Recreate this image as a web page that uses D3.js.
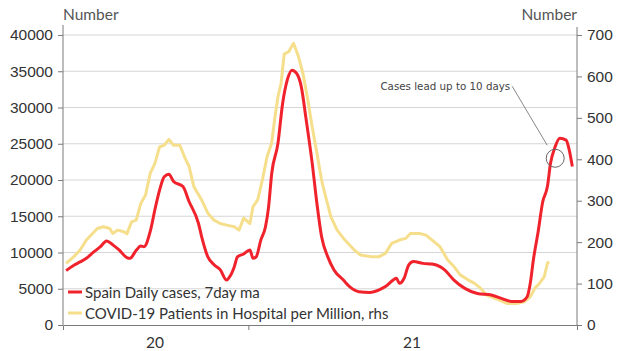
<!DOCTYPE html>
<html>
<head>
<meta charset="utf-8">
<script src="https://cdn.jsdelivr.net/npm/d3@7"></script>
<style>
    body { margin: 0; background: #fff; }
    svg { font-family: Lato, "Open Sans", sans-serif; }
    .tick text { font-size: 15.5px; fill: #333; }
    .note { font-family: "DejaVu Sans", sans-serif; font-size: 10.3px; fill: #444; }
</style>
</head>
<body>
<div id="chart"></div>
<script>
// Spain: daily cases (lhs) vs patients in hospital per million (rhs)

const caseDates = [
    '2020-09-06', '2020-09-11', '2020-09-15', '2020-09-19', '2020-09-23', '2020-09-28',
    '2020-10-02', '2020-10-06', '2020-10-10', '2020-10-15', '2020-10-17', '2020-10-21',
    '2020-10-24', '2020-10-26', '2020-10-30', '2020-11-02', '2020-11-05', '2020-11-08',
    '2020-11-11', '2020-11-14', '2020-11-20', '2020-11-24', '2020-11-30', '2020-12-02',
    '2020-12-06', '2020-12-10', '2020-12-14', '2020-12-18', '2020-12-20', '2020-12-23',
    '2020-12-25', '2020-12-29', '2021-01-02', '2021-01-04', '2021-01-06', '2021-01-09',
    '2021-01-12', '2021-01-14', '2021-01-16', '2021-01-20', '2021-01-23', '2021-01-26',
    '2021-01-29', '2021-02-01', '2021-02-04', '2021-02-07', '2021-02-11', '2021-02-14',
    '2021-02-17', '2021-02-21', '2021-02-25', '2021-03-03', '2021-03-07', '2021-03-13',
    '2021-03-20', '2021-03-26', '2021-03-30', '2021-04-04', '2021-04-06', '2021-04-08',
    '2021-04-11', '2021-04-14', '2021-04-17', '2021-04-23', '2021-04-29', '2021-05-04',
    '2021-05-07', '2021-05-13', '2021-05-20', '2021-05-28', '2021-06-06', '2021-06-12',
    '2021-06-19', '2021-06-25', '2021-06-29', '2021-07-01', '2021-07-03', '2021-07-06',
    '2021-07-09', '2021-07-12', '2021-07-14', '2021-07-17', '2021-07-20', '2021-07-24',
    '2021-07-26', '2021-07-28'
];
const caseValues = [
    7500, 8250, 8700, 9200, 9950, 10800,
    11600, 11050, 10350, 9300, 9200, 10300,
    10900, 10800, 12900, 15900, 18600, 20450,
    20800, 19800, 19100, 17000, 14000, 12200,
    9400, 8300, 7600, 6200, 6650, 8050,
    9400, 9800, 10350, 9200, 9400, 11700,
    13550, 16300, 20900, 25050, 30550, 33800,
    35150, 34700, 32850, 28500, 22300, 16800,
    12200, 9400, 7600, 6200, 5300, 4600,
    4500, 4850, 5300, 6200, 6450, 5750,
    6450, 8300, 8750, 8500, 8400, 8050,
    7600, 6200, 5050, 4350, 4150, 3700,
    3250, 3250, 3900, 5750, 9000, 12800,
    17000, 19100, 22300, 24600, 25750, 25500,
    24150, 21850
];

const hospDates = [
    '2020-09-06', '2020-09-11', '2020-09-15', '2020-09-19', '2020-09-23', '2020-09-26',
    '2020-09-30', '2020-10-04', '2020-10-06', '2020-10-09', '2020-10-13', '2020-10-15',
    '2020-10-18', '2020-10-21', '2020-10-24', '2020-10-27', '2020-10-30', '2020-11-02',
    '2020-11-05', '2020-11-08', '2020-11-11', '2020-11-14', '2020-11-18', '2020-11-21',
    '2020-11-24', '2020-11-27', '2020-12-02', '2020-12-06', '2020-12-10', '2020-12-14',
    '2020-12-18', '2020-12-23', '2020-12-26', '2020-12-29', '2021-01-02', '2021-01-04',
    '2021-01-07', '2021-01-10', '2021-01-13', '2021-01-16', '2021-01-18', '2021-01-20',
    '2021-01-22', '2021-01-24', '2021-01-27', '2021-01-30', '2021-02-02', '2021-02-05',
    '2021-02-08', '2021-02-11', '2021-02-14', '2021-02-17', '2021-02-19', '2021-02-23',
    '2021-02-27', '2021-03-04', '2021-03-10', '2021-03-14', '2021-03-21', '2021-03-26',
    '2021-03-30', '2021-04-03', '2021-04-08', '2021-04-12', '2021-04-15', '2021-04-21',
    '2021-04-25', '2021-04-29', '2021-05-04', '2021-05-09', '2021-05-13', '2021-05-17',
    '2021-05-22', '2021-05-26', '2021-05-30', '2021-06-03', '2021-06-10', '2021-06-16',
    '2021-06-22', '2021-06-27', '2021-07-01', '2021-07-04', '2021-07-07', '2021-07-10',
    '2021-07-12', '2021-07-13'
];
const hospValues = [
    149, 165, 181, 205, 221, 233,
    237, 233, 221, 229, 225, 220,
    249, 253, 294, 314, 366, 390,
    430, 434, 448, 434, 434, 406,
    382, 334, 302, 270, 253, 245,
    241, 237, 229, 258, 245, 286,
    302, 350, 406, 440, 500, 551,
    583, 654, 660, 680, 650, 608,
    547, 478, 415, 350, 319, 261,
    229, 205, 181, 169, 165, 165,
    173, 197, 205, 209, 221, 221,
    217, 205, 189, 157, 141, 121,
    109, 101, 89, 72, 62, 52,
    52, 56, 68, 89, 101, 117,
    149, 153
];

const leftTicks = [0, 5000, 10000, 15000, 20000, 25000, 30000, 35000, 40000];
const rightTicks = [0, 100, 200, 300, 400, 500, 600, 700];
const yearTicks = ['2021-01-01'];
const yearLabels = [
    { mid: '2020-11-02', text: '20' },
    { mid: '2021-04-16', text: '21' }
];
const xDomain = ['2020-09-04', '2021-07-31'];

const legendItems = [
    { label: 'Spain Daily cases, 7day ma', color: '#f0222c' },
    { label: 'COVID-19 Patients in Hospital per Million, rhs', color: '#f6df8c' }
];

const annotation = { date: '2021-07-17', value: 23000, text: 'Cases lead up to 10 days' };

const parse = d3.timeParse('%Y-%m-%d');

const width = 620, height = 351;
const margin = { top: 35, right: 43, bottom: 26, left: 63 };
const innerW = width - margin.left - margin.right;
const innerH = height - margin.top - margin.bottom;

const svg = d3.select('#chart').append('svg')
    .attr('width', width)
    .attr('height', height);

const g = svg.append('g')
    .attr('transform', `translate(${margin.left},${margin.top})`);

const x = d3.scaleTime()
    .domain(xDomain.map(parse))
    .range([0, innerW]);

const yL = d3.scaleLinear().domain([0, 40000]).range([innerH, 0]);
const yR = d3.scaleLinear().domain([0, 700]).range([innerH, 0]);

// gridlines from left axis
g.append('g')
    .selectAll('line')
    .data(leftTicks.slice(1))
    .enter()
    .append('line')
    .attr('x1', 0)
    .attr('x2', innerW)
    .attr('y1', d => yL(d))
    .attr('y2', d => yL(d))
    .attr('stroke', '#d6d6d6')
    .attr('stroke-width', 1);

// axes
const axisColor = '#7a7a7a';

const left = g.append('g')
    .call(d3.axisLeft(yL).tickValues(leftTicks).tickSize(5).tickPadding(5).tickFormat(d3.format('d')));
left.select('.domain').remove();
left.selectAll('.tick line').attr('stroke', axisColor);

const right = g.append('g')
    .attr('transform', `translate(${innerW},0)`)
    .call(d3.axisRight(yR).tickValues(rightTicks).tickSize(5).tickPadding(5));
right.select('.domain').remove();
right.selectAll('.tick line').attr('stroke', axisColor);

// axis lines, running a bit past the top tick
g.append('line')
    .attr('x1', 0).attr('x2', 0).attr('y1', -10).attr('y2', innerH)
    .attr('stroke', axisColor);
g.append('line')
    .attr('x1', innerW).attr('x2', innerW).attr('y1', -8).attr('y2', innerH)
    .attr('stroke', axisColor);

const bottom = g.append('g')
    .attr('transform', `translate(0,${innerH})`)
    .call(d3.axisBottom(x).tickValues(yearTicks.map(parse)).tickSize(5).tickFormat(''));
bottom.select('.domain').attr('stroke', axisColor);
bottom.selectAll('.tick line').attr('stroke', axisColor);

g.append('g')
    .selectAll('text')
    .data(yearLabels)
    .enter()
    .append('text')
    .attr('x', d => x(parse(d.mid)))
    .attr('y', innerH + 23)
    .attr('text-anchor', 'middle')
    .attr('font-size', 15.5)
    .attr('fill', '#333')
    .text(d => d.text);

// unit labels
svg.append('text')
    .attr('x', margin.left)
    .attr('y', 20)
    .attr('font-size', 15.5)
    .attr('fill', '#555')
    .text('Number');
svg.append('text')
    .attr('x', margin.left + innerW)
    .attr('y', 20)
    .attr('text-anchor', 'end')
    .attr('font-size', 15.5)
    .attr('fill', '#555')
    .text('Number');

// series
const hosp = hospDates.map((d, i) => ({ date: parse(d), value: hospValues[i] }));
const cases = caseDates.map((d, i) => ({ date: parse(d), value: caseValues[i] }));

g.append('path')
    .datum(hosp)
    .attr('fill', 'none')
    .attr('stroke', legendItems[1].color)
    .attr('stroke-width', 3)
    .attr('stroke-linejoin', 'round')
    .attr('d', d3.line().x(d => x(d.date)).y(d => yR(d.value)));

g.append('path')
    .datum(cases)
    .attr('fill', 'none')
    .attr('stroke', legendItems[0].color)
    .attr('stroke-width', 3)
    .attr('stroke-linejoin', 'round')
    .attr('d', d3.line().curve(d3.curveMonotoneX).x(d => x(d.date)).y(d => yL(d.value)));

// annotation
const ax = x(parse(annotation.date)), ay = yL(annotation.value);
g.append('circle')
    .attr('cx', ax)
    .attr('cy', ay)
    .attr('r', 9)
    .attr('fill', 'none')
    .attr('stroke', '#666')
    .attr('stroke-width', 1);
g.append('line')
    .attr('x1', ax - 8).attr('y1', ay - 13)
    .attr('x2', ax - 43).attr('y2', ay - 72)
    .attr('stroke', '#888')
    .attr('stroke-width', 1);
g.append('text')
    .attr('class', 'note')
    .attr('x', ax - 45)
    .attr('y', ay - 68)
    .attr('text-anchor', 'end')
    .text(annotation.text);

// legend
const legend = g.append('g')
    .attr('transform', `translate(5,${innerH - 33})`);
const items = legend.selectAll('g')
    .data(legendItems)
    .enter()
    .append('g')
    .attr('transform', (d, i) => `translate(0,${i * 21})`);
items.append('line')
    .attr('x1', 0).attr('x2', 14)
    .attr('stroke', d => d.color)
    .attr('stroke-width', 3);
items.append('text')
    .attr('x', 17)
    .attr('y', 5.5)
    .attr('font-size', 15)
    .attr('fill', '#333')
    .text(d => d.label);
</script>
</body>
</html>
